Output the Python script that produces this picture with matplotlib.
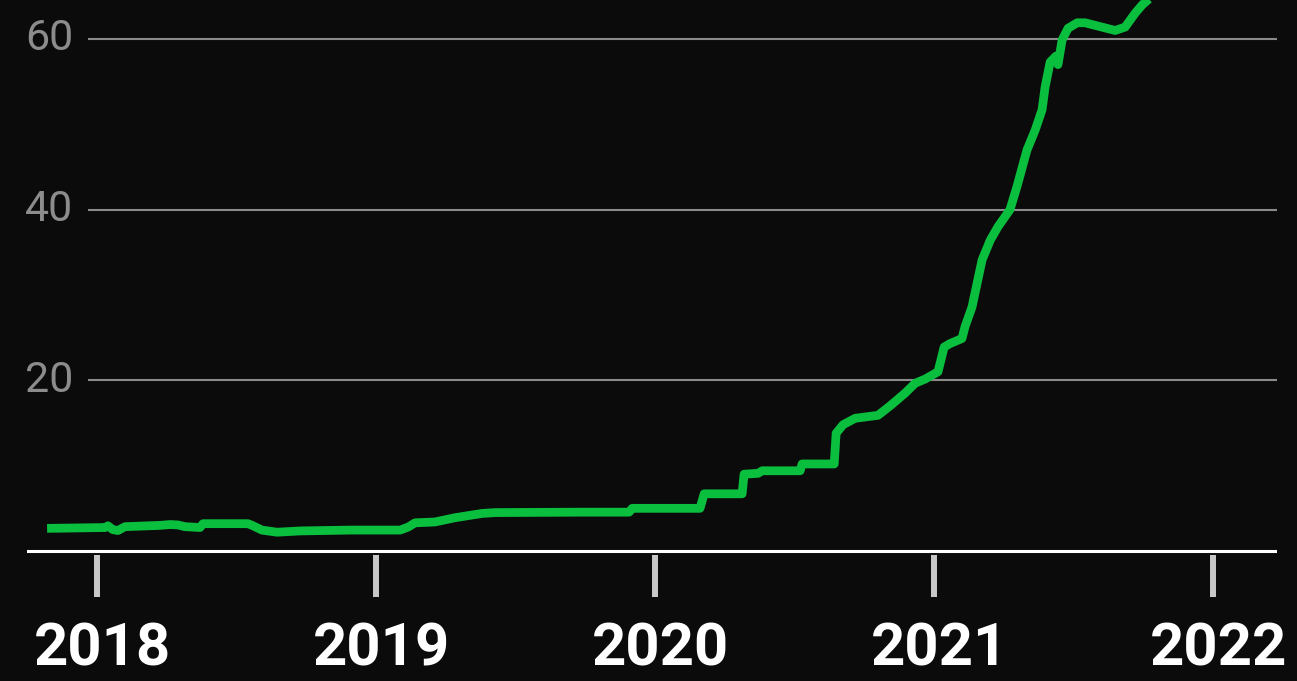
import matplotlib.pyplot as plt
import matplotlib.transforms as mtransforms

# decimal years and values
years = [2017.821, 2018.029, 2018.039, 2018.057, 2018.075, 2018.100, 2018.226, 2018.262,
         2018.290, 2018.315, 2018.369, 2018.380, 2018.541, 2018.556, 2018.591, 2018.645,
         2018.728, 2018.907, 2019.086, 2019.115, 2019.140, 2019.211, 2019.283, 2019.380,
         2019.427, 2019.731, 2019.907, 2019.918, 2020.161, 2020.176, 2020.312, 2020.319,
         2020.369, 2020.384, 2020.520, 2020.527, 2020.642, 2020.649, 2020.674, 2020.717,
         2020.799, 2020.842, 2020.896, 2020.932, 2020.968, 2021.014, 2021.036, 2021.057,
         2021.100, 2021.111, 2021.136, 2021.172, 2021.201, 2021.229, 2021.272, 2021.297,
         2021.333, 2021.362, 2021.387, 2021.398, 2021.416, 2021.437, 2021.444, 2021.459,
         2021.480, 2021.513, 2021.541, 2021.595, 2021.649, 2021.685, 2021.720, 2021.746,
         2021.774, 2021.828]
values = [2.65, 2.75, 2.95, 2.5, 2.4, 2.85, 3.0, 3.1,
          3.05, 2.85, 2.75, 3.2, 3.2, 3.0, 2.45, 2.2,
          2.35, 2.45, 2.45, 2.8, 3.3, 3.4, 3.9, 4.4,
          4.5, 4.55, 4.55, 5.0, 5.0, 6.7, 6.7, 9.0,
          9.1, 9.4, 9.4, 10.2, 10.2, 13.8, 14.8, 15.55,
          15.9, 17.0, 18.5, 19.65, 20.15, 21.0, 23.9, 24.3,
          24.9, 26.3, 28.6, 34.1, 36.4, 38.0, 40.0, 42.7,
          47.0, 49.3, 51.7, 54.4, 57.3, 58.0, 57.0, 59.9,
          61.25, 61.9, 61.9, 61.45, 61.0, 61.4, 63.0, 64.0,
          64.8, 66.5]

year_ticks = [2018, 2019, 2020, 2021, 2022]
grid_values = [20, 40, 60]

bg = '#0b0b0b'
green = '#0abf3e'

fig = plt.figure(figsize=(12.97, 6.81), dpi=100, facecolor=bg)
ax = fig.add_axes([27 / 1297, (681 - 555) / 681, 1250 / 1297, 555 / 681])
ax.set_facecolor(bg)

ax.plot(years, values, color=green, lw=6.3, solid_capstyle='butt', solid_joinstyle='round', zorder=3)

ax.set_xlim(2017.749, 2022.229)
ax.set_ylim(-0.47, 64.57)

# gridlines and y labels
for v in grid_values:
    ax.axhline(v, xmin=0.0496, xmax=1.0, color='#8a8a8a', lw=1.5, zorder=1)
    ax.text(0.0368, v, str(v), transform=ax.get_yaxis_transform(), ha='right', va='center',
            fontsize=31, family='Roboto', color='#8c8c8c')

# baseline
ax.axhline(0, color='white', lw=2.2, zorder=2)

for s in ax.spines.values():
    s.set_visible(False)
ax.set_yticks([])
ax.set_xticks(year_ticks)
ax.set_xticklabels([str(y) for y in year_ticks])
ax.tick_params(axis='x', length=30, width=4.3, color='#c8c8c8', pad=18,
               labelsize=43, labelcolor='white')
offset = mtransforms.ScaledTranslation(5 / 100, 0, fig.dpi_scale_trans)
for lbl in ax.get_xticklabels():
    lbl.set_fontfamily('Roboto')
    lbl.set_fontweight('bold')
    lbl.set_transform(lbl.get_transform() + offset)

fig.savefig('out.png', dpi=100, facecolor=bg)
